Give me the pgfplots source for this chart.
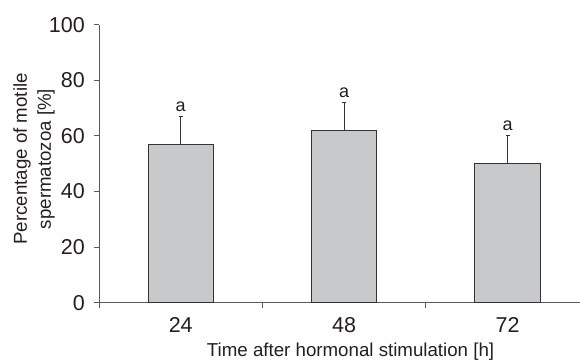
\documentclass[border=0pt]{standalone}
\usepackage{fontspec}
\setmainfont{Liberation Sans}
\usepackage{pgfplots}
\pgfplotsset{compat=1.18}
\definecolor{barfill}{HTML}{C8C9CB}
\definecolor{baredge}{HTML}{333333}
\definecolor{axisgray}{HTML}{5A5A5A}
\definecolor{txt}{HTML}{231F20}
\begin{document}
\begin{tikzpicture}[x=1pt,y=1pt]
\useasboundingbox (0,0) rectangle (580,360);
\begin{axis}[
  at={(99pt,57.3pt)}, anchor=south west,
  scale only axis, width=481pt, height=278pt,
  xmin=-0.5, xmax=2.443, ymin=0, ymax=100,
  clip=false,
  axis x line*=bottom, axis y line*=left,
  axis line style={axisgray, line width=0.9pt},
  tick align=outside, major tick length=5pt,
  tick style={axisgray, line width=0.9pt},
  ytick={0,20,...,100},
  xtick={-0.5,0.5,1.5}, xticklabels={},
  extra x ticks={0,1,2}, extra x tick labels={24,48,72},
  extra x tick style={major tick length=0pt,
     xticklabel style={inner sep=0pt, yshift=-15pt}},
  /pgf/number format/assume math mode=true,
  ticklabel style={font=\fontsize{21.5}{24}\selectfont, text=txt},
  yticklabel style={inner sep=0pt, xshift=-9pt},
  xlabel={Time after hormonal stimulation [h]},
  xlabel style={at={(axis description cs:0.523,-0.192)}, anchor=base,
     font=\fontsize{18.7}{22}\selectfont, text=txt},
  ylabel={Percentage of motile\\spermatozoa [\%]},
  ylabel style={at={(axis description cs:-0.1351,0.517)}, anchor=center,
     align=center, font=\fontsize{18.7}{24}\selectfont, text=txt},
]
\addplot[ybar, bar width=0.4, bar shift=0pt, fill=barfill, draw=baredge,
  line width=0.9pt,
  error bars/.cd, y dir=plus, y explicit,
  error bar style={baredge, line width=0.9pt},
  error mark options={rotate=90, baredge, line width=0.9pt, mark size=2pt}]
  coordinates {(0,57) +- (0,10) (1,62) +- (0,10) (2,50) +- (0,10)};
\addplot[draw=none, mark=none, nodes near coords={a},
  every node near coord/.append style={anchor=south, inner sep=0pt,
     yshift=5pt, font=\fontsize{18}{20}\selectfont, text=txt}]
  coordinates {(0,67) (1,72) (2,60)};
\end{axis}
\end{tikzpicture}
\end{document}
